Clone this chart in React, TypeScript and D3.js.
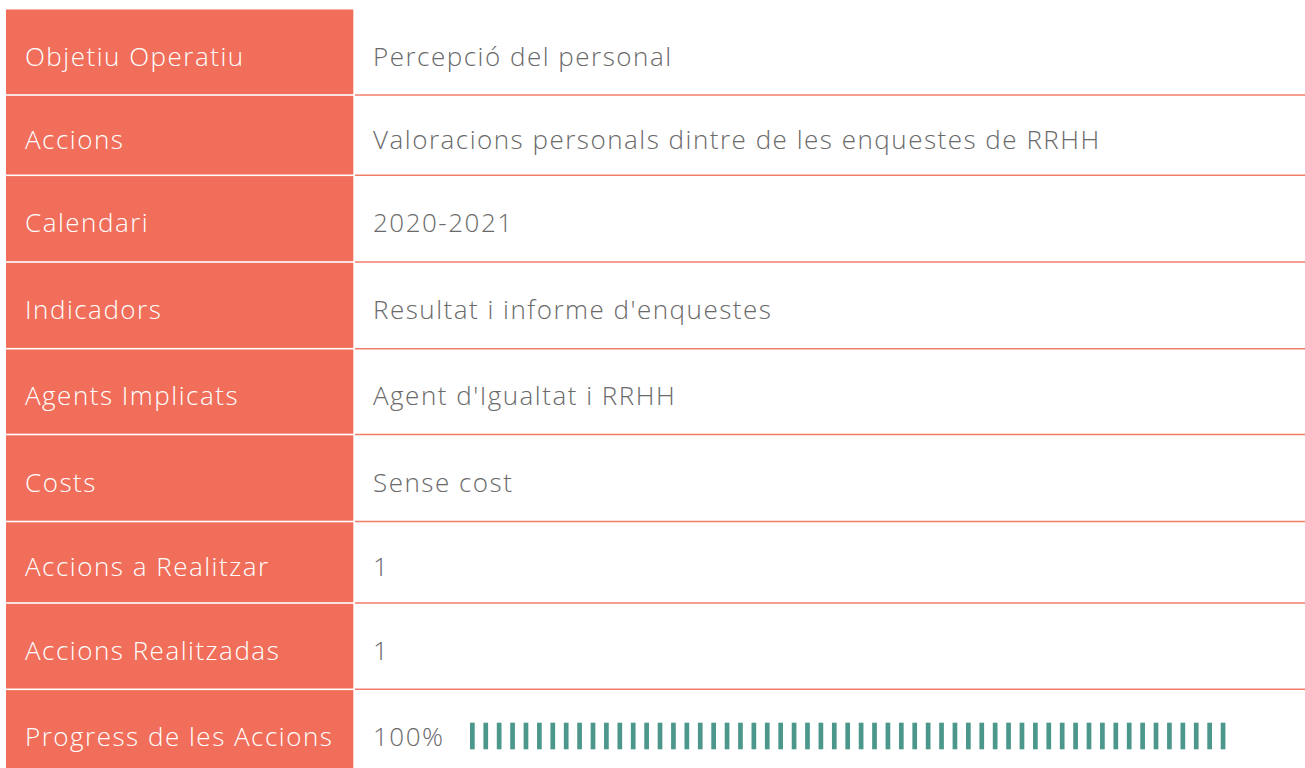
import React from "react";
import * as d3 from "d3";

const labels: string[] = [
  "Objetiu Operatiu",
  "Accions",
  "Calendari",
  "Indicadors",
  "Agents Implicats",
  "Costs",
  "Accions a Realitzar",
  "Accions Realitzadas",
  "Progress de les Accions",
];

const values: string[] = [
  "Percepció del personal",
  "Valoracions personals dintre de les enquestes de RRHH",
  "2020-2021",
  "Resultat i informe d'enquestes",
  "Agent d'Igualtat i RRHH",
  "Sense cost",
  "1",
  "1",
  "100%",
];

const progressPercent = 100;
const progressSegments = 57;

// layout
const W = 1305;
const H = 768;
const rowEdges = [9.5, 95, 175.3, 262, 348.7, 434.5, 521.5, 603, 689.3, 780];
const leftX0 = 6;
const leftX1 = 353.3;
const ORANGE = "#F06E5A";
const LINE = "#F27C6A";
const TEAL = "#4C978B";
const FONT = "'Open Sans', sans-serif";

export default function App() {
  const segIdx = d3.range(progressSegments);
  const filled = Math.round((progressPercent / 100) * progressSegments);
  const xSeg = d3.scaleLinear().domain([0, progressSegments - 1]).range([470, 1220.7]);
  const lastTop = rowEdges[rowEdges.length - 2];

  return (
    <div style={{ position: "absolute", left: 0, top: 0, width: W, height: H, background: "#fff" }}>
      <svg width={W} height={H} style={{ display: "block" }}>
        <rect x={0} y={0} width={W} height={H} fill="#fff" />
        {labels.map((lab, i) => {
          const y0 = rowEdges[i];
          const y1 = rowEdges[i + 1];
          const last = i === labels.length - 1;
          const base = last ? y0 + 57 : (y0 + y1) / 2 + 13.5;
          return (
            <g key={i}>
              <rect
                x={leftX0}
                y={y0 + (i === 0 ? 0 : 0.8)}
                width={leftX1 - leftX0}
                height={y1 - y0 - (i === 0 ? 0.8 : 1.6)}
                fill={ORANGE}
              />
              <text
                x={25}
                y={base}
                fill="#fff"
                fontFamily={FONT}
                fontWeight={300}
                fontSize={26}
                letterSpacing={1.5}
              >
                {lab}
              </text>
              <text
                x={373}
                y={base}
                fill="#6a6a6a"
                fontFamily={FONT}
                fontWeight={300}
                fontSize={26}
                letterSpacing={1.5}
              >
                {values[i]}
              </text>
              {!last && (
                <line x1={355} x2={W} y1={y1} y2={y1} stroke={LINE} strokeWidth={1.6} />
              )}
            </g>
          );
        })}
        {segIdx.slice(0, filled).map((i) => (
          <rect
            key={"s" + i}
            x={xSeg(i)}
            y={lastTop + 33.4}
            width={4.7}
            height={26.6}
            fill={TEAL}
          />
        ))}
      </svg>
    </div>
  );
}
